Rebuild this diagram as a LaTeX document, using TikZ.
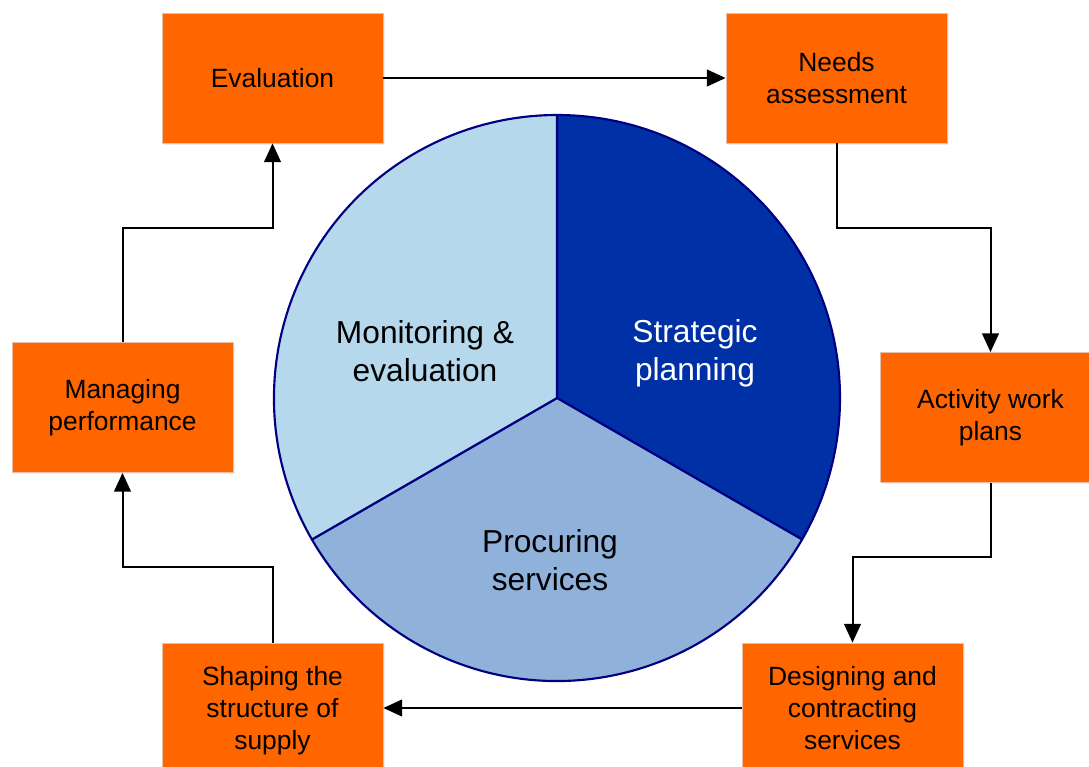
\documentclass[tikz,border=0pt]{standalone}
\usepackage{fontspec}
\setmainfont{Liberation Sans}
\usetikzlibrary{arrows.meta,shadows}
\definecolor{boxorange}{RGB}{255,102,0}
\definecolor{boxedge}{RGB}{232,190,165}
\definecolor{navy}{RGB}{0,0,128}
\definecolor{stratfill}{RGB}{0,48,166}
\definecolor{procfill}{RGB}{143,177,218}
\definecolor{monfill}{RGB}{182,216,236}
\tikzset{
  stepbox/.style={rectangle, fill=boxorange, draw=boxedge, line width=0.6pt,
    minimum width=165.75pt, minimum height=97.5pt, inner sep=0pt,
    align=center, font=\fontsize{19.8pt}{24pt}\selectfont,
    drop shadow={opacity=0.12, shadow xshift=1.2pt, shadow yshift=-1.2pt}},
  arr/.style={line width=1.5pt, -{Triangle[length=14pt,width=12.5pt]}},
  pietext/.style={align=center, font=\fontsize{23.8pt}{28.5pt}\selectfont},
  sector/.style={draw=navy, line width=1.6pt, line join=round}
}
\begin{document}
\begin{tikzpicture}[x=0.75pt,y=-0.75pt]
\clip (0,0) rectangle (1089,767);
\fill[white] (0,0) rectangle (1089,767);
% pie
\coordinate (c) at (557,398);
\filldraw[sector, fill=stratfill] (c) -- ++(-90:283) arc[start angle=-90, end angle=30, radius=283] -- cycle;
\filldraw[sector, fill=procfill] (c) -- ++(30:283) arc[start angle=30, end angle=150, radius=283] -- cycle;
\filldraw[sector, fill=monfill] (c) -- ++(150:283) arc[start angle=150, end angle=270, radius=283] -- cycle;
\node[pietext] (mon) at (425,351) {Monitoring \&\\evaluation};
\node[pietext, text=white] (str) at (695,353) {Strategic\\planning};
\node[pietext] (pro) at (550,560) {Procuring\\services};
% boxes
\node[stepbox] (eval) at (272.5,78) {Evaluation};
\node[stepbox] (needs) at (836.5,78) {Needs\\assessment};
\node[stepbox] (act) at (990.5,417.5) {Activity work\\plans};
\node[stepbox] (des) at (852.5,708) {Designing and\\contracting\\services};
\node[stepbox, text depth=0pt] (shp) at (272.5,708) {Shaping the\\structure of\\supply};
\node[stepbox] (mng) at (122.5,407.5) {Managing\\performance};
% connectors
\draw[arr] (eval.east) -- (needs.west);
\draw[arr] (needs.south) -- ++(0,85) -| (act.north);
\draw[arr] (act.south) -- ++(0,74) -| (des.north);
\draw[arr] (des.west) -- (shp.east);
\draw[arr] (shp.north) -- ++(0,-76) -| (mng.south);
\draw[arr] (mng.north) -- ++(0,-114) -| (eval.south);
\end{tikzpicture}
\end{document}
